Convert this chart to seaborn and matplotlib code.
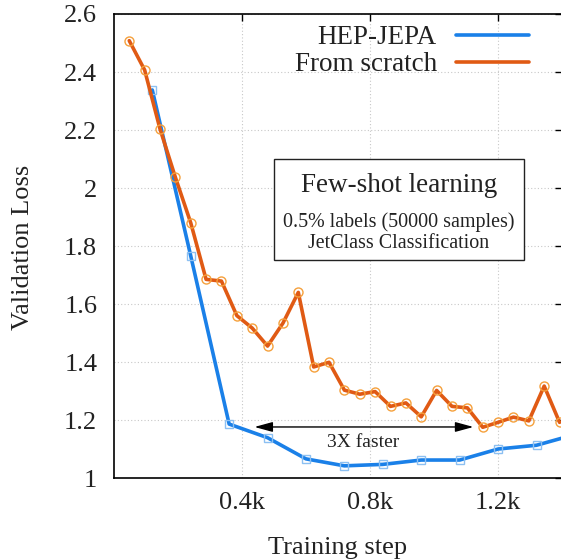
import matplotlib
matplotlib.use("Agg")
import matplotlib.pyplot as plt
from matplotlib.lines import Line2D
from matplotlib.patches import Rectangle
import seaborn as sns
import pandas as pd

# ---- data (x in thousands of training steps) ----
jepa_steps = [0.12, 0.24, 0.36, 0.48, 0.60, 0.72, 0.84, 0.96, 1.08, 1.20, 1.32, 1.44]
jepa_loss = [2.338, 1.766, 1.186, 1.139, 1.066, 1.042, 1.047, 1.062, 1.062, 1.100, 1.113, 1.150]

scratch_steps = [0.048, 0.096, 0.144, 0.192, 0.240, 0.288, 0.336, 0.384, 0.432, 0.480,
                 0.528, 0.576, 0.624, 0.672, 0.720, 0.768, 0.816, 0.864, 0.912, 0.960,
                 1.008, 1.056, 1.104, 1.152, 1.200, 1.248, 1.296, 1.344, 1.392]
scratch_loss = [2.508, 2.407, 2.204, 2.037, 1.880, 1.685, 1.679, 1.560, 1.517, 1.455,
                1.534, 1.640, 1.383, 1.399, 1.303, 1.289, 1.298, 1.247, 1.259, 1.211,
                1.302, 1.247, 1.242, 1.175, 1.192, 1.210, 1.197, 1.317, 1.192]

series_names = ["HEP-JEPA", "From scratch"]
xtick_vals = [0.4, 0.8, 1.2]
xtick_labels = ["0.4k", "0.8k", "1.2k"]
ytick_vals = [1.0, 1.2, 1.4, 1.6, 1.8, 2.0, 2.2, 2.4, 2.6]
ytick_labels = ["1", "1.2", "1.4", "1.6", "1.8", "2", "2.2", "2.4", "2.6"]

box_title = "Few-shot learning"
box_lines = ["0.5% labels (50000 samples)", "JetClass Classification"]
arrow_text = "3X faster"

df_jepa = pd.DataFrame({"step": jepa_steps, "loss": jepa_loss})
df_scr = pd.DataFrame({"step": scratch_steps, "loss": scratch_loss})

sns.set_style("white")
plt.rcParams["font.family"] = ["Liberation Serif", "DejaVu Serif"]

TXT = "#222222"
BLUE = "#1a80e8"
BLUE_M = "#8cc0f2"
ORANGE = "#e05a14"
ORANGE_M = "#f5a03c"

fig = plt.figure(figsize=(5.61, 5.60), dpi=100)
ax = fig.add_axes([0.203, 0.1464, 0.799, 0.975 - 0.1464])

sns.lineplot(data=df_jepa, x="step", y="loss", ax=ax, color=BLUE, lw=2.6,
             marker="s", markersize=5.5, markerfacecolor="none",
             markeredgecolor=BLUE_M, markeredgewidth=1.0, zorder=3)
sns.lineplot(data=df_scr, x="step", y="loss", ax=ax, color=ORANGE, lw=2.6,
             marker="o", markersize=6.5, markerfacecolor="none",
             markeredgecolor=ORANGE_M, markeredgewidth=1.0, zorder=4)

ax.set_xlim(0, 1.4)
ax.set_ylim(1.0, 2.6)
ax.set_xticks(xtick_vals)
ax.set_xticklabels(xtick_labels)
ax.set_yticks(ytick_vals)
ax.set_yticklabels(ytick_labels)
ax.tick_params(axis="both", direction="in", length=5, width=1.0, colors="black",
               labelcolor=TXT, labelsize=19, top=True, right=True)
ax.tick_params(axis="x", pad=10)
ax.tick_params(axis="y", pad=12)
for s in ax.spines.values():
    s.set_visible(True)
    s.set_color("black")
    s.set_linewidth(1.2)

ax.grid(True, color="#c8c8c8", linestyle=(0, (1, 2)), linewidth=0.8)
ax.set_axisbelow(True)

ax.set_xlabel("Training step", fontsize=19, color=TXT)
ax.set_ylabel("Validation Loss", fontsize=19, color=TXT)
ax.xaxis.set_label_coords(0.5, -0.127)
ax.yaxis.set_label_coords(-0.178, 0.497)

# info box
rect = Rectangle((0.499, 1.752), 1.281 - 0.499, 2.1 - 1.752, facecolor="white",
                 edgecolor="#222222", lw=1.0, zorder=2)
ax.add_patch(rect)
cx = (0.499 + 1.281) / 2
ax.text(cx, 2.010, box_title, ha="center", va="center", fontsize=19.5, color=TXT, zorder=5)
ax.text(cx, 1.884, box_lines[0], ha="center", va="center", fontsize=14.4, color=TXT, zorder=5)
ax.text(cx, 1.809, box_lines[1], ha="center", va="center", fontsize=14.4, color=TXT, zorder=5)

# arrow
ax.annotate("", xy=(0.439, 1.176), xytext=(1.123, 1.176),
            arrowprops=dict(arrowstyle="<|-|>,head_length=11,head_width=3",
                            color="black", lw=1.0, shrinkA=0, shrinkB=0,
                            mutation_scale=1), zorder=5)
ax.text(0.777, 1.123, arrow_text, ha="center", va="center", fontsize=14, color=TXT, zorder=5)

# legend
handles = [Line2D([0], [0], color=BLUE, lw=2.6), Line2D([0], [0], color=ORANGE, lw=2.6)]
leg = fig.legend(handles, series_names, loc="upper right",
                 bbox_to_anchor=(529 / 561, 1 - 25 / 560), frameon=False,
                 markerfirst=False, fontsize=19.5, handlelength=2.7, handletextpad=0.7,
                 borderpad=0, borderaxespad=0, labelspacing=0.09)
for t in leg.get_texts():
    t.set_color(TXT)

fig.savefig("out.png", dpi=100)
